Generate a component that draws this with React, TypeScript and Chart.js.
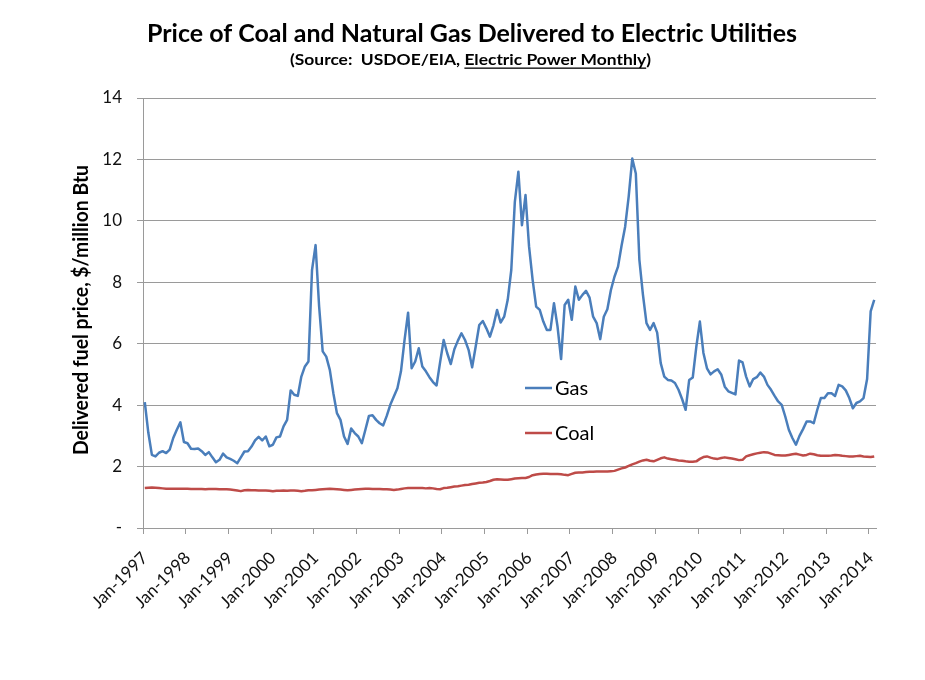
import React, { useEffect, useRef } from 'react';
import { Chart, registerables } from 'chart.js';

Chart.register(...registerables);

// ---------- data (monthly, $/million Btu) ----------
const gas1997 = [4.10, 3.10, 2.38, 2.33, 2.45, 2.50, 2.44, 2.55, 2.93, 3.20, 3.44, 2.80];
const gas1998 = [2.76, 2.58, 2.57, 2.59, 2.50, 2.38, 2.47, 2.30, 2.14, 2.22, 2.42, 2.30];
const gas1999 = [2.25, 2.19, 2.11, 2.30, 2.49, 2.50, 2.65, 2.85, 2.97, 2.85, 2.98, 2.66];
const gas2000 = [2.71, 2.95, 2.98, 3.31, 3.52, 4.48, 4.34, 4.30, 4.93, 5.26, 5.42, 8.40];
const gas2001 = [9.21, 7.21, 5.75, 5.58, 5.15, 4.39, 3.74, 3.52, 2.98, 2.74, 3.24, 3.09];
const gas2002 = [2.98, 2.76, 3.20, 3.65, 3.67, 3.52, 3.41, 3.34, 3.65, 4.01, 4.28, 4.55];
const gas2003 = [5.10, 6.12, 7.01, 5.20, 5.42, 5.85, 5.26, 5.10, 4.91, 4.75, 4.64, 5.40];
const gas2004 = [6.12, 5.69, 5.34, 5.82, 6.10, 6.34, 6.12, 5.80, 5.23, 5.91, 6.61, 6.74];
const gas2005 = [6.50, 6.23, 6.60, 7.10, 6.69, 6.88, 7.43, 8.40, 10.62, 11.60, 9.86, 10.84];
const gas2006 = [9.16, 8.08, 7.21, 7.10, 6.72, 6.45, 6.45, 7.32, 6.56, 5.50, 7.26, 7.43];
const gas2007 = [6.78, 7.86, 7.43, 7.59, 7.72, 7.50, 6.88, 6.67, 6.15, 6.88, 7.12, 7.75];
const gas2008 = [8.18, 8.51, 9.20, 9.81, 10.80, 12.03, 11.54, 8.73, 7.60, 6.67, 6.45, 6.67];
const gas2009 = [6.36, 5.37, 4.93, 4.82, 4.80, 4.72, 4.50, 4.20, 3.85, 4.82, 4.90, 5.90];
const gas2010 = [6.72, 5.70, 5.20, 5.00, 5.10, 5.17, 5.00, 4.60, 4.45, 4.40, 4.35, 5.45];
const gas2011 = [5.39, 4.93, 4.61, 4.85, 4.91, 5.06, 4.93, 4.66, 4.50, 4.30, 4.12, 4.01];
const gas2012 = [3.63, 3.20, 2.93, 2.71, 3.00, 3.22, 3.47, 3.47, 3.41, 3.85, 4.23, 4.23];
const gas2013 = [4.39, 4.39, 4.30, 4.66, 4.61, 4.48, 4.23, 3.90, 4.07, 4.12, 4.23, 4.85];
const gas2014 = [7.05, 7.43];

const coal1997 = [1.30, 1.31, 1.32, 1.31, 1.30, 1.29, 1.28, 1.28, 1.28, 1.28, 1.28, 1.28];
const coal1998 = [1.28, 1.27, 1.27, 1.27, 1.27, 1.26, 1.27, 1.27, 1.27, 1.26, 1.26, 1.26];
const coal1999 = [1.25, 1.24, 1.22, 1.20, 1.23, 1.24, 1.23, 1.23, 1.22, 1.22, 1.22, 1.21];
const coal2000 = [1.20, 1.21, 1.21, 1.22, 1.21, 1.22, 1.22, 1.21, 1.20, 1.21, 1.23, 1.23];
const coal2001 = [1.24, 1.25, 1.26, 1.27, 1.28, 1.27, 1.26, 1.25, 1.24, 1.23, 1.24, 1.25];
const coal2002 = [1.26, 1.27, 1.28, 1.28, 1.27, 1.27, 1.27, 1.26, 1.26, 1.25, 1.24, 1.25];
const coal2003 = [1.27, 1.29, 1.30, 1.30, 1.30, 1.30, 1.30, 1.29, 1.30, 1.29, 1.27, 1.26];
const coal2004 = [1.30, 1.31, 1.33, 1.35, 1.36, 1.38, 1.40, 1.41, 1.43, 1.45, 1.47, 1.48];
const coal2005 = [1.50, 1.53, 1.57, 1.59, 1.58, 1.57, 1.57, 1.59, 1.61, 1.62, 1.63, 1.63];
const coal2006 = [1.66, 1.72, 1.74, 1.76, 1.77, 1.77, 1.76, 1.76, 1.76, 1.75, 1.73, 1.72];
const coal2007 = [1.76, 1.80, 1.81, 1.81, 1.82, 1.83, 1.83, 1.84, 1.84, 1.84, 1.84, 1.85];
const coal2008 = [1.86, 1.90, 1.94, 1.97, 2.02, 2.07, 2.11, 2.16, 2.20, 2.22, 2.19, 2.17];
const coal2009 = [2.22, 2.27, 2.30, 2.26, 2.24, 2.22, 2.20, 2.19, 2.17, 2.16, 2.16, 2.17];
const coal2010 = [2.25, 2.31, 2.33, 2.29, 2.26, 2.25, 2.28, 2.30, 2.28, 2.26, 2.24, 2.21];
const coal2011 = [2.22, 2.33, 2.37, 2.40, 2.43, 2.45, 2.47, 2.46, 2.42, 2.38, 2.37, 2.36];
const coal2012 = [2.36, 2.38, 2.40, 2.42, 2.39, 2.36, 2.38, 2.42, 2.40, 2.37, 2.35, 2.35];
const coal2013 = [2.35, 2.36, 2.38, 2.37, 2.35, 2.34, 2.33, 2.33, 2.34, 2.35, 2.33, 2.32];
const coal2014 = [2.31, 2.33];

const gasValues = [
  ...gas1997, ...gas1998, ...gas1999, ...gas2000, ...gas2001, ...gas2002,
  ...gas2003, ...gas2004, ...gas2005, ...gas2006, ...gas2007, ...gas2008,
  ...gas2009, ...gas2010, ...gas2011, ...gas2012, ...gas2013, ...gas2014,
];
const coalValues = [
  ...coal1997, ...coal1998, ...coal1999, ...coal2000, ...coal2001, ...coal2002,
  ...coal2003, ...coal2004, ...coal2005, ...coal2006, ...coal2007, ...coal2008,
  ...coal2009, ...coal2010, ...coal2011, ...coal2012, ...coal2013, ...coal2014,
];

const FIRST_YEAR = 1997;
const MONTH_NAMES = ['Jan', 'Feb', 'Mar', 'Apr', 'May', 'Jun', 'Jul', 'Aug', 'Sep', 'Oct', 'Nov', 'Dec'];
const categories = gasValues.map(
  (_, i) => `${MONTH_NAMES[i % 12]}-${FIRST_YEAR + Math.floor(i / 12)}`
);

const Y_MIN = 0;
const Y_MAX = 14;
const Y_STEP = 2;

const TITLE = 'Price of Coal and Natural Gas Delivered to Electric Utilities';
const SUB_PREFIX = '(Source:  USDOE/EIA, ';
const SUB_UNDERLINED = 'Electric Power Monthly';
const SUB_SUFFIX = ')';
const Y_TITLE = 'Delivered fuel price, $/million Btu';
const SERIES_NAMES = ['Gas', 'Coal'];

const GAS_COLOR = '#4A7EBB';
const COAL_COLOR = '#BE4B48';
const GRID = '#9a9a9a';
const FONT = 'Lato';

const textPlugin = {
  id: 'customTexts',
  afterDraw(chart: any) {
    const ctx: CanvasRenderingContext2D = chart.ctx;
    ctx.save();
    ctx.fillStyle = '#000';

    const drawScaled = (text: string, cx: number, by: number, font: string, width: number) => {
      ctx.font = font;
      const w = ctx.measureText(text).width;
      ctx.save();
      ctx.translate(cx, by);
      ctx.scale(width / w, 1);
      ctx.textAlign = 'center';
      ctx.textBaseline = 'alphabetic';
      ctx.fillText(text, 0, 0);
      ctx.restore();
    };
    drawScaled(TITLE, 472, 42, `bold 25px ${FONT}`, 650);

    // Subtitle with underlined part
    ctx.font = `bold 16px ${FONT}`;
    const wp = ctx.measureText(SUB_PREFIX).width;
    const wu = ctx.measureText(SUB_UNDERLINED).width;
    const ws = ctx.measureText(SUB_SUFFIX).width;
    const total = wp + wu + ws;
    const targetW = 361;
    const sx = targetW / total;
    const left = 470.5 - targetW / 2;
    const base = 65;
    ctx.save();
    ctx.translate(left, base);
    ctx.scale(sx, 1);
    ctx.textAlign = 'left';
    ctx.textBaseline = 'alphabetic';
    ctx.fillText(SUB_PREFIX, 0, 0);
    ctx.fillText(SUB_UNDERLINED, wp, 0);
    ctx.fillText(SUB_SUFFIX, wp + wu, 0);
    ctx.fillRect(wp, 2.5, wu, 1.3);
    ctx.restore();

    // Y axis title
    ctx.font = `bold 20px ${FONT}`;
    const wy = ctx.measureText(Y_TITLE).width;
    ctx.save();
    ctx.translate(88, 310);
    ctx.rotate(-Math.PI / 2);
    ctx.scale(290 / wy, 1);
    ctx.textAlign = 'center';
    ctx.textBaseline = 'alphabetic';
    ctx.fillText(Y_TITLE, 0, 0);
    ctx.restore();

    // Legend
    const items = [
      { name: SERIES_NAMES[0], color: GAS_COLOR, y: 388 },
      { name: SERIES_NAMES[1], color: COAL_COLOR, y: 433 },
    ];
    ctx.font = `20px ${FONT}`;
    ctx.textAlign = 'left';
    ctx.textBaseline = 'alphabetic';
    items.forEach((it) => {
      ctx.strokeStyle = it.color;
      ctx.lineWidth = 2.5;
      ctx.beginPath();
      ctx.moveTo(525, it.y);
      ctx.lineTo(552, it.y);
      ctx.stroke();
      ctx.fillStyle = '#000';
      ctx.fillText(it.name, 555, it.y + 7);
    });

    ctx.restore();
  },
};

export default function App() {
  const canvasRef = useRef<HTMLCanvasElement | null>(null);

  useEffect(() => {
    const canvas = canvasRef.current;
    if (!canvas) return;
    const chart = new Chart(canvas, {
      type: 'line',
      data: {
        labels: categories,
        datasets: [
          {
            label: SERIES_NAMES[0],
            data: gasValues,
            borderColor: GAS_COLOR,
            backgroundColor: GAS_COLOR,
            borderWidth: 2.5,
            pointRadius: 0,
            tension: 0,
            borderJoinStyle: 'round',
          },
          {
            label: SERIES_NAMES[1],
            data: coalValues,
            borderColor: COAL_COLOR,
            backgroundColor: COAL_COLOR,
            borderWidth: 2.5,
            pointRadius: 0,
            tension: 0,
            borderJoinStyle: 'round',
          },
        ],
      },
      options: {
        responsive: false,
        animation: false,
        devicePixelRatio: 1,
        layout: { padding: { top: 98, right: 49, bottom: 0, left: 0 } },
        plugins: {
          legend: { display: false },
          title: { display: false },
          tooltip: { enabled: false },
        },
        scales: {
          x: {
            type: 'category',
            offset: true,
            border: { display: true, color: GRID, width: 1 },
            grid: {
              offset: true,
              drawOnChartArea: false,
              drawTicks: true,
              tickLength: 6,
              color: (c: any) => (c.index % 12 === 0 ? GRID : 'rgba(0,0,0,0)'),
            },
            ticks: {
              autoSkip: false,
              maxRotation: 45,
              minRotation: 45,
              padding: 14,
              color: '#111',
              font: { family: FONT, size: 17 },
              callback: (_v: any, i: number) => (i % 12 === 0 ? categories[i] : ''),
            },
            afterFit: (scale: any) => {
              scale.height = 152;
            },
          },
          y: {
            min: Y_MIN,
            max: Y_MAX,
            border: { display: true, color: GRID, width: 1 },
            grid: { color: GRID, tickLength: 6, drawTicks: true },
            ticks: {
              stepSize: Y_STEP,
              padding: 15,
              color: '#111',
              font: { family: FONT, size: 17 },
              callback: (v: any) => (Number(v) === 0 ? '-' : String(v)),
            },
            afterFit: (scale: any) => {
              scale.width = 143;
            },
          },
        },
      },
      plugins: [textPlugin],
    });
    return () => chart.destroy();
  }, []);

  return (
    <div style={{ position: 'absolute', left: 0, top: 0, width: 925, height: 680, background: '#fff' }}>
      <canvas ref={canvasRef} width={925} height={680} style={{ display: 'block' }} />
    </div>
  );
}
